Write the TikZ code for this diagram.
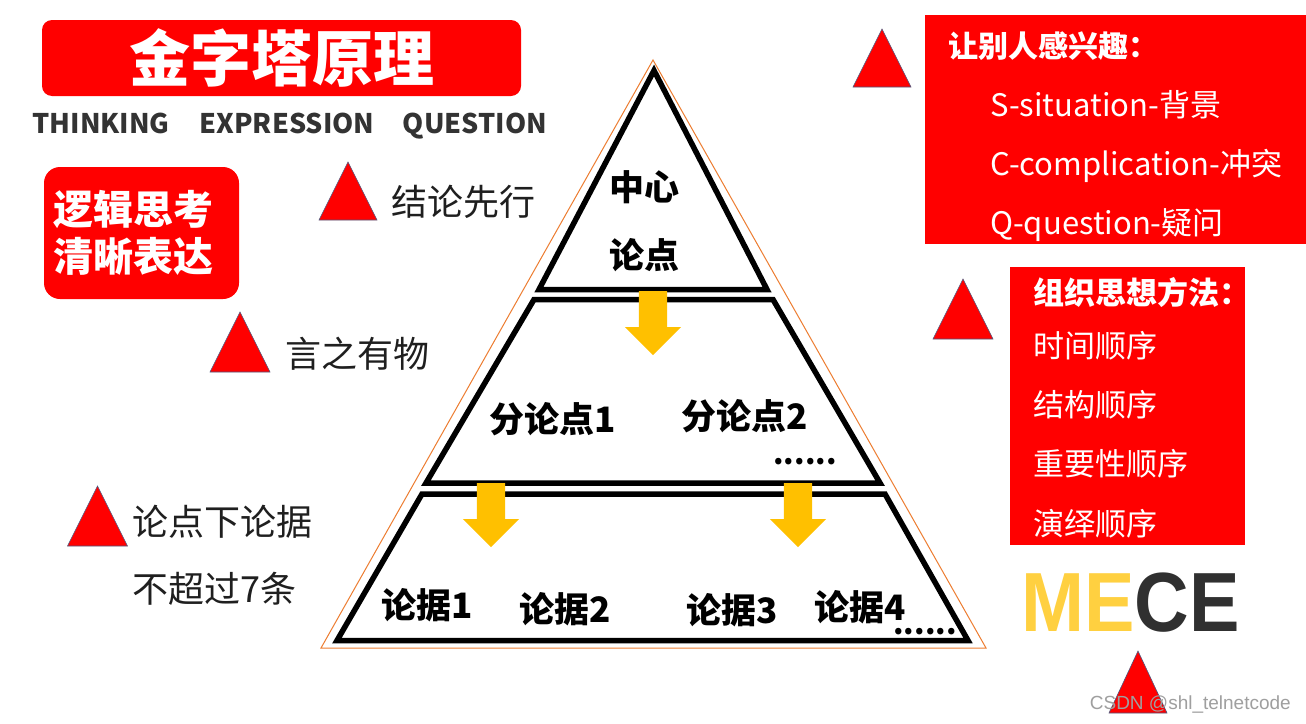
\documentclass[tikz,border=0pt]{standalone}
\usepackage{fontspec}
\setmainfont{Noto Sans CJK SC}
\newfontfamily\latinfont{Liberation Sans}
\usetikzlibrary{shapes.geometric,shapes.arrows,positioning}
\definecolor{pptred}{HTML}{FF0000}
\definecolor{arrowgold}{HTML}{FFC000}
\definecolor{edgeorange}{HTML}{ED7D31}
\definecolor{markline}{HTML}{4A5A80}
\definecolor{darktext}{HTML}{1F1F1F}
\definecolor{headgray}{HTML}{333333}
\definecolor{mecegold}{HTML}{FFD040}
\definecolor{mecedark}{HTML}{303030}

\begin{document}
\begin{tikzpicture}[
  x=1pt, y=-1pt,
  marker/.style={isosceles triangle, isosceles triangle stretches, shape border rotate=90, minimum width=58pt, minimum height=58pt, inner sep=0pt, outer sep=0pt, fill=pptred, draw=markline, line width=0.6pt, anchor=lower side},
  redbox/.style={fill=pptred, text=white, rounded corners=10pt, inner sep=0pt},
  tier/.style={draw=black, line width=5.5pt, line join=miter},
  down/.style={single arrow, fill=arrowgold, rotate=-90, minimum height=64pt, minimum width=56pt, single arrow head extend=14pt, inner xsep=0pt, inner ysep=14pt, anchor=tail},
  lvl/.style={font=\fontsize{35}{35}\selectfont\bfseries, inner sep=0pt},
  dots/.style={font=\fontsize{30}{30}\selectfont\bfseries, inner sep=0pt, text height=4pt, text depth=0pt},
  note/.style={font=\fontsize{36}{36}\selectfont, text=darktext, inner sep=0pt, text height=30pt, text depth=6pt, anchor=west},
  head/.style={font=\fontsize{27}{27}\selectfont\bfseries, text=headgray, inner sep=0pt, text height=20pt, text depth=0pt},
  boxtxt/.style={font=\fontsize{31}{31}\selectfont, text=white, inner sep=0pt, text height=25pt, text depth=5pt, anchor=west},
]
  \useasboundingbox (0,0) rectangle (1306,723);
  \fill[white] (0,0) rectangle (1306,723);

  % title and left column
  \node[redbox, minimum width=479pt, minimum height=76pt, font=\fontsize{61}{61}\selectfont\bfseries] (title) at (281.5,58) {金字塔原理};
  \node[head] (think) at (101,123) {THINKING};
  \node[head] (expr) at (287,123) {EXPRESSION};
  \node[head] (ques) at (475,123) {QUESTION};
  \node[redbox, rounded corners=16pt, minimum width=195pt, minimum height=132pt, text width=176pt, align=left, font=\fontsize{40}{47}\selectfont\bfseries] (logic) at (141.5,233) {逻辑思考\\清晰表达};

  \node[marker] (tconc) at (348,220) {};
  \node[marker, minimum width=60pt, minimum height=60pt] (tsubst) at (240,372) {};
  \node[marker, minimum width=60pt, minimum height=60pt] (tlimit) at (97.5,546) {};
  \node[note] (conc) at (391,203) {结论先行};
  \node[note] (subst) at (285,355) {言之有物};
  \node[note] (limit) at (132,523) {论点下论据};
  \node[note, below=31pt of limit.south west, anchor=north west] (limit2) {不超过7条};

  % pyramid
  \draw[edgeorange, line width=1pt] (653,60) -- (986,648) -- (321,648) -- cycle;
  \draw[tier] (654,70.5) -- (767,289.5) -- (539,289.5) -- cycle;
  \draw[tier] (534,299.5) -- (773,299.5) -- (880,483) -- (426,483) -- cycle;
  \draw[tier] (422,494) -- (885,494) -- (968,640.5) -- (337,640.5) -- cycle;

  \node[lvl] (core1) at (644,187) {中心};
  \node[lvl] (core2) at (644,255) {论点};
  \node[lvl] (sub1) at (553,419) {分论点1};
  \node[lvl] (sub2) at (745,416) {分论点2};
  \node[dots] (subdots) at (805,462) {......};
  \node[lvl] (ev1) at (427,605) {论据1};
  \node[lvl] (ev2) at (565,609) {论据2};
  \node[lvl] (ev3) at (732,610) {论据3};
  \node[lvl] (ev4) at (860,607) {论据4};
  \node[dots] (evdots) at (925,632) {......};

  \node[down] (a1) at (653,291) {};
  \node[down] (a2) at (491,483) {};
  \node[down] (a3) at (798,483) {};

  % right column
  \node[marker] (thook) at (882,87) {};
  \node[fill=pptred, minimum width=381pt, minimum height=229pt, inner sep=0pt, anchor=north west] (hookbox) at (925,15) {};
  \node[boxtxt, font=\fontsize{30}{30}\selectfont\bfseries] (hook) at (948,47) {让别人感兴趣：};
  \node[boxtxt] (sit) at (990,106) {S-situation-背景};
  \node[boxtxt, below=29pt of sit.south west, anchor=north west] (comp) {C-complication-冲突};
  \node[boxtxt, below=29pt of comp.south west, anchor=north west] (quest) {Q-question-疑问};

  \node[marker, minimum width=60pt, minimum height=60pt] (tmethod) at (963,339) {};
  \node[fill=pptred, minimum width=235pt, minimum height=278pt, inner sep=0pt, anchor=north west] (methodbox) at (1010,267) {};
  \node[boxtxt, font=\fontsize{31}{31}\selectfont\bfseries] (method) at (1033,294) {组织思想方法：};
  \node[boxtxt] (order1) at (1033,347) {时间顺序};
  \node[boxtxt, below=29pt of order1.south west, anchor=north west] (order2) {结构顺序};
  \node[boxtxt, below=29pt of order2.south west, anchor=north west] (order3) {重要性顺序};
  \node[boxtxt, below=29pt of order3.south west, anchor=north west] (order4) {演绎顺序};

  \node[inner sep=0pt, anchor=west, font=\latinfont\fontsize{84}{84}\selectfont\bfseries] (mece) at (1021,603) {\scalebox{0.9}[1]{\textcolor{mecegold}{ME}\textcolor{mecedark}{CE}}};
  \node[marker, minimum height=62pt] (tmece) at (1138,713) {};
  \node[inner sep=0pt, anchor=east, font=\latinfont\fontsize{19}{19}\selectfont, text=gray!75] (mark) at (1291,704) {CSDN @shl\_telnetcode};
\end{tikzpicture}
\end{document}
